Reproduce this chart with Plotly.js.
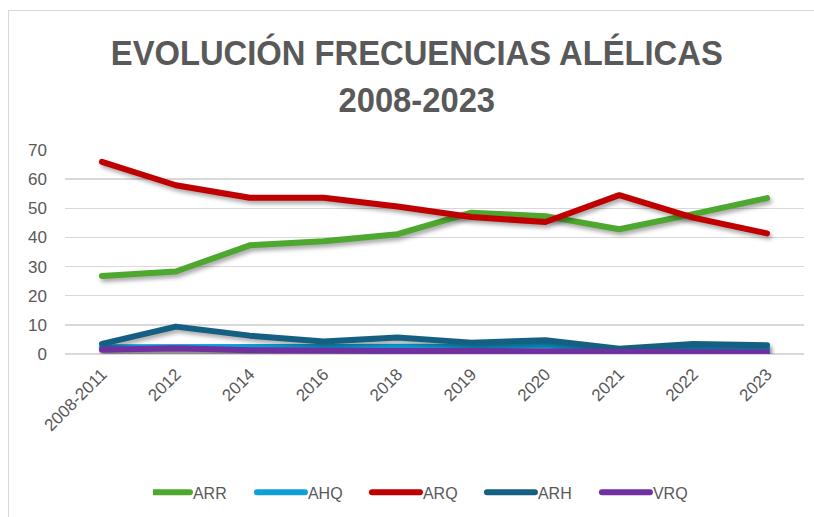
<!DOCTYPE html>
<html>
<head>
<meta charset="utf-8">
<script src="https://cdn.plot.ly/plotly-3.0.1.min.js"></script>
<style>
  html, body { margin: 0; padding: 0; background: #ffffff; }
  #frame { position: absolute; left: 8px; top: 10px; width: 900px; height: 600px;
           border: 1.5px solid #d9d9d9; box-sizing: border-box; }
  #chart { position: absolute; left: 0; top: 0; width: 814px; height: 517px; }
  .scatterlayer path.js-line { filter: drop-shadow(2px 3px 2px rgba(0,0,0,0.35));
                               stroke-linecap: round; stroke-linejoin: round; }
  .legend path.js-line { stroke-linecap: round; }
  .gtitle { transform-box: fill-box; transform-origin: center; transform: scaleX(0.91); }
</style>
</head>
<body>
<div id="frame"></div>
<div id="chart"></div>
<script>
const categories = ["2008-2011", "2012", "2014", "2016", "2018", "2019", "2020", "2021", "2022", "2023"];
const seriesNames = ["ARR", "AHQ", "ARQ", "ARH", "VRQ"];
const ARR = [26.8, 28.3, 37.3, 38.7, 41.1, 48.5, 47.3, 42.8, 48.0, 53.5];
const AHQ = [2.3, 2.3, 2.1, 2.5, 2.3, 2.5, 3.0, 1.1, 1.7, 1.7];
const ARQ = [65.9, 57.9, 53.6, 53.6, 50.6, 47.0, 45.3, 54.5, 46.8, 41.4];
const ARH = [3.5, 9.4, 6.3, 4.3, 5.7, 3.9, 4.7, 1.8, 3.4, 3.0];
const VRQ = [1.5, 2.0, 1.3, 1.0, 1.0, 1.0, 1.0, 0.6, 0.6, 0.5];
const yTicks = [0, 10, 20, 30, 40, 50, 60, 70];

const values = [ARR, AHQ, ARQ, ARH, VRQ];
const colors = ["#4EA72E", "#0F9ED5", "#C00000", "#156082", "#7030A0"];

const traces = seriesNames.map((name, i) => ({
  type: "scatter",
  mode: "lines",
  name: name,
  x: categories,
  y: values[i],
  line: { color: colors[i], width: 6 },
  hoverinfo: "x+y+name"
}));

const grey = "#595959";
const layout = {
  width: 814,
  height: 517,
  paper_bgcolor: "rgba(0,0,0,0)",
  plot_bgcolor: "rgba(0,0,0,0)",
  margin: { l: 65, r: 10, t: 150, b: 162, pad: 0 },
  title: {
    text: "<b>EVOLUCIÓN FRECUENCIAS ALÉLICAS<br>2008-2023</b>",
    font: { family: "Liberation Sans, Arial, sans-serif", size: 36, color: grey },
    x: 0.512, xanchor: "center",
    xref: "container", yref: "container",
    y: 1 - 65 / 517, yanchor: "middle"
  },
  xaxis: {
    type: "category",
    range: [-0.5, categories.length - 0.5],
    tickangle: -45,
    tickfont: { family: "Liberation Sans, Arial, sans-serif", size: 17, color: grey },
    showgrid: false,
    zeroline: false,
    showline: false,
    ticks: "",
    ticklabelstandoff: 6
  },
  yaxis: {
    range: [0, 70],
    tickvals: yTicks,
    ticktext: yTicks.map(String),
    tickfont: { family: "Liberation Sans, Arial, sans-serif", size: 17, color: grey },
    showgrid: true,
    gridcolor: "#d9d9d9",
    gridwidth: 1.5,
    zeroline: true,
    zerolinecolor: "#d9d9d9",
    zerolinewidth: 1.5,
    showline: false,
    ticks: "",
    ticklabelstandoff: 17
  },
  legend: {
    orientation: "h",
    x: 0.508, xanchor: "center",
    y: -0.67, yanchor: "middle",
    font: { family: "Liberation Sans, Arial, sans-serif", size: 16, color: grey },
    entrywidth: 70,
    entrywidthmode: "pixels",
    tracegroupgap: 0
  },
  showlegend: true
};

Plotly.newPlot("chart", traces, layout, { displayModeBar: false, staticPlot: true }).then(gd => {
  gd.querySelectorAll(".legend .legendlines path").forEach(p => p.setAttribute("d", "M-11,0h48"));
});
</script>
</body>
</html>
